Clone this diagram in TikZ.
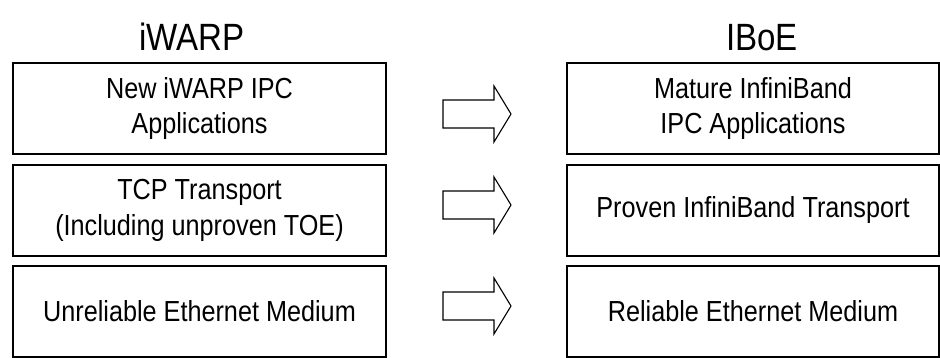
\documentclass[tikz,border=0pt]{standalone}
\usepackage{fontspec}
\newfontfamily\bodyfont[FakeStretch=0.87]{Liberation Sans}
\begin{document}
\begin{tikzpicture}[x=1pt,y=-1pt,
  box/.style={draw, line width=1.4pt, minimum width=373pt, minimum height=91pt, inner sep=0pt, align=center, font=\bodyfont\fontsize{29}{35.7}\selectfont},
  title/.style={font=\bodyfont\fontsize{38}{40}\selectfont, anchor=base, inner sep=0pt},
  blockarrow/.style={draw, line width=1.1pt, line join=miter}]
\useasboundingbox (0,0) rectangle (940,358);
\node[title] (t1) at (192,51) {iWARP};
\node[title] (t2) at (762,51) {IBoE};
\node[box] (l1) at (199.5,108.5) {New iWARP IPC\\Applications};
\node[box] (l2) at (199.5,210.5) {TCP Transport\\(Including unproven TOE)};
\node[box] (l3) at (199.5,311.5) {Unreliable Ethernet Medium};
\node[box, minimum width=372pt] (r1) at (753,108.5) {Mature InfiniBand\\IPC Applications};
\node[box, minimum width=372pt] (r2) at (753,210.5) {Proven InfiniBand Transport};
\node[box, minimum width=372pt] (r3) at (753,311.5) {Reliable Ethernet Medium};
\coordinate (a1) at (443,114);
\coordinate (a2) at (443,205);
\coordinate (a3) at (443,306);
\foreach \a in {a1,a2,a3}{
  \draw[blockarrow] (\a) ++(0,-14) -- ++(51,0) -- ++(0,-14) -- ++(17,28) -- ++(-17,28) -- ++(0,-14) -- ++(-51,0) -- cycle;
}
\end{tikzpicture}
\end{document}
